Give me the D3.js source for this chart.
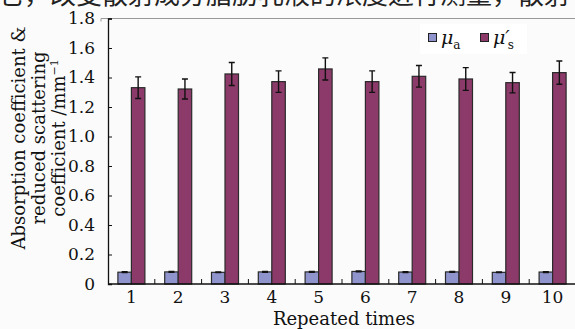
<!DOCTYPE html>
<html>
<head>
<meta charset="utf-8">
<script src="https://cdn.jsdelivr.net/npm/d3@7"></script>
<style>
  body { margin: 0; background: #fbfbfb; }
  svg { display: block; }
  .tick text { font-family: "DejaVu Serif", serif; font-size: 17px; fill: #111; }
</style>
</head>
<body>
<script>
    var categories = ["1", "2", "3", "4", "5", "6", "7", "8", "9", "10"];
    var muA = [0.080, 0.082, 0.079, 0.082, 0.082, 0.085, 0.081, 0.082, 0.079, 0.081];
    var muAErr = [0.003, 0.003, 0.002, 0.003, 0.003, 0.003, 0.003, 0.003, 0.002, 0.003];
    var muS = [1.331, 1.322, 1.424, 1.372, 1.458, 1.372, 1.408, 1.390, 1.365, 1.433];
    var muSErr = [0.073, 0.068, 0.078, 0.073, 0.075, 0.073, 0.073, 0.077, 0.069, 0.079];
    var yTicks = [0, 0.2, 0.4, 0.6, 0.8, 1.0, 1.2, 1.4, 1.6, 1.8];

    var W = 575, H = 329;
    var plotL = 108, plotR = 576, plotT = 18.5, plotB = 284;

    var svg = d3.select("body").append("svg")
        .attr("width", W)
        .attr("height", H);

    // cropped line of the page text above the figure
    svg.append("text")
        .attr("x", -2)
        .attr("y", 4)
        .style("font-family", "'Noto Sans CJK SC', sans-serif")
        .style("font-size", "26px")
        .style("fill", "#222")
        .text("它，改变散射成分脂肪乳液的浓度进行测量，散射");

    var x = d3.scaleBand()
        .domain(categories)
        .range([plotL, plotR]);

    var y = d3.scaleLinear()
        .domain([0, 1.8])
        .range([plotB, plotT]);

    // frame line on top
    svg.append("path")
        .attr("d", "M101," + (plotT + 3) + "V" + plotT + "H" + W)
        .attr("fill", "none")
        .attr("stroke", "#999")
        .attr("stroke-width", 1);

    var barW = 13.5;
    var colA = "#8f95cc", colS = "#8c3a69";

    var groups = svg.append("g").selectAll("g")
        .data(categories)
        .enter().append("g");

    groups.append("rect")
        .attr("x", function(d) { return x(d) + x.bandwidth() / 2 - barW; })
        .attr("y", function(d, i) { return y(muA[i]); })
        .attr("width", barW)
        .attr("height", function(d, i) { return y(0) - y(muA[i]); })
        .attr("fill", colA)
        .attr("stroke", "#2a2a2a")
        .attr("stroke-width", 1.2);

    groups.append("rect")
        .attr("x", function(d) { return x(d) + x.bandwidth() / 2; })
        .attr("y", function(d, i) { return y(muS[i]); })
        .attr("width", barW)
        .attr("height", function(d, i) { return y(0) - y(muS[i]); })
        .attr("fill", colS)
        .attr("stroke", "#2a2a2a")
        .attr("stroke-width", 1.2);

    // error bars
    function errBar(sel, vals, errs, off) {
        sel.each(function(d, i) {
            var g = d3.select(this);
            var cx = x(d) + x.bandwidth() / 2 + off;
            var y1 = y(vals[i] + errs[i]), y2 = y(vals[i] - errs[i]);
            g.append("path")
                .attr("d", "M" + cx + "," + y1 + "V" + y2 +
                           "M" + (cx - 3) + "," + y1 + "H" + (cx + 3) +
                           "M" + (cx - 3) + "," + y2 + "H" + (cx + 3))
                .attr("stroke", "#111")
                .attr("stroke-width", 1.4)
                .attr("fill", "none");
        });
    }
    errBar(groups, muA, muAErr, -barW / 2);
    errBar(groups, muS, muSErr, barW / 2);

    // axes
    var yAxis = d3.axisLeft(y)
        .tickValues(yTicks)
        .tickSize(-4)
        .tickPadding(13)
        .tickFormat(function(d) { return d === 0 ? "0" : d3.format(".1f")(d); });

    svg.append("g")
        .attr("transform", "translate(" + plotL + ",0)")
        .call(yAxis)
        .call(function(g) {
            g.select(".domain").attr("stroke", "#111").attr("stroke-width", 1.3);
            g.selectAll(".tick line").attr("stroke", "#111");
        });

    var xAxis = d3.axisBottom(x)
        .tickSize(0)
        .tickPadding(7);

    svg.append("g")
        .attr("transform", "translate(0," + plotB + ")")
        .call(xAxis)
        .call(function(g) {
            g.select(".domain").attr("d", "M" + plotL + ",0H" + W)
                .attr("stroke", "#111").attr("stroke-width", 1.3);
        });

    // small ticks between categories
    svg.append("g").selectAll("line")
        .data(categories.slice(1))
        .enter().append("line")
        .attr("x1", function(d) { return x(d); })
        .attr("x2", function(d) { return x(d); })
        .attr("y1", plotB)
        .attr("y2", plotB - 5)
        .attr("stroke", "#111");

    // axis titles
    svg.append("text")
        .attr("x", 344)
        .attr("y", 325)
        .attr("text-anchor", "middle")
        .style("font-family", "'DejaVu Serif', serif")
        .style("font-size", "18px")
        .style("fill", "#111")
        .text("Repeated times");

    var yTitle = svg.append("text")
        .attr("transform", "translate(0,138) rotate(-90)")
        .attr("text-anchor", "middle")
        .style("font-family", "'DejaVu Serif', serif")
        .style("font-size", "18px")
        .style("fill", "#111");
    yTitle.append("tspan").attr("x", 0).attr("y", 25).text("Absorption coefficient &");
    yTitle.append("tspan").attr("x", 0).attr("y", 45).text("reduced scattering");
    var l3 = yTitle.append("tspan").attr("x", 0).attr("y", 65);
    l3.text("coefficient /mm");
    yTitle.append("tspan").attr("dy", -7).style("font-size", "11px").text("−1");

    // legend
    var lg = svg.append("g").attr("transform", "translate(420,24)");
    lg.append("rect").attr("x", 0).attr("y", 0).attr("width", 107).attr("height", 30).attr("fill", "#fff");
    lg.append("rect").attr("x", 8.5).attr("y", 9.5).attr("width", 8).attr("height", 8)
        .attr("fill", colA).attr("stroke", "#222");
    var t1 = lg.append("text").attr("x", 21).attr("y", 20)
        .style("font-family", "'DejaVu Serif', serif").style("fill", "#111");
    t1.append("tspan").style("font-style", "italic").style("font-size", "19px").text("μ");
    t1.append("tspan").attr("dy", 5).style("font-size", "12px").text("a");
    lg.append("rect").attr("x", 60.5).attr("y", 9.5).attr("width", 8).attr("height", 8)
        .attr("fill", colS).attr("stroke", "#222");
    var t2 = lg.append("text").attr("x", 73).attr("y", 20)
        .style("font-family", "'DejaVu Serif', serif").style("fill", "#111");
    t2.append("tspan").style("font-style", "italic").style("font-size", "19px").text("μ′");
    t2.append("tspan").attr("dx", -2).attr("dy", 5).style("font-size", "12px").text("s");
</script>
</body>
</html>
